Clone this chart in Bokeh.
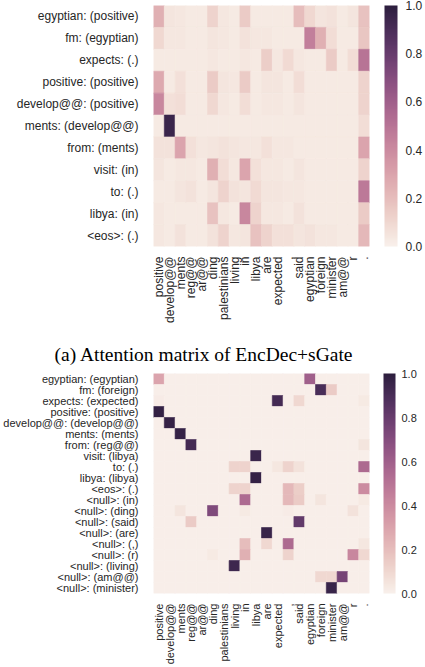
import numpy as np
from bokeh.plotting import figure
from bokeh.models import (ColumnDataSource, LinearColorMapper, ColorBar, FixedTicker,
                          PrintfTickFormatter, Title, FactorRange)
from bokeh.layouts import column
from bokeh.embed import file_html
from bokeh.resources import INLINE

# Source-side tokens (columns of both attention matrices)
source_tokens = ["positive", "develop@@", "ments", "reg@@", "ar@@", "ding", "palestinians",
                 "living", "in", "libya", "are", "expected", ",", "said", "egyptian",
                 "foreign", "minister", "am@@", "r", "."]

# (a) EncDec+sGate: output token: (most attended source token)
sgate_rows = ["egyptian: (positive)", "fm: (egyptian)", "expects: (.)", "positive: (positive)",
              "develop@@: (positive)", "ments: (develop@@)", "from: (ments)", "visit: (in)",
              "to: (.)", "libya: (in)", "<eos>: (.)"]
sgate_weights = [
    [.25, .05, .04, .03, .03, .12, .04, .03, .15, .03, .03, .03, .03, .20, .10, .05, .06, .03, .05, .18],
    [.10, .04, .04, .03, .03, .05, .04, .03, .06, .04, .04, .03, .03, .03, .45, .25, .08, .03, .03, .17],
    [.03, .03, .03, .03, .03, .04, .03, .03, .04, .03, .14, .04, .09, .04, .03, .03, .15, .03, .08, .50],
    [.28, .03, .07, .03, .03, .15, .05, .04, .15, .03, .05, .05, .03, .08, .03, .03, .03, .03, .03, .12],
    [.42, .07, .08, .03, .03, .10, .04, .03, .08, .03, .04, .04, .03, .05, .03, .03, .03, .03, .03, .12],
    [.03, .95, .03, .03, .03, .03, .03, .03, .03, .03, .03, .03, .03, .03, .03, .03, .03, .03, .03, .08],
    [.06, .06, .30, .07, .04, .05, .06, .05, .04, .04, .07, .04, .04, .03, .03, .03, .03, .03, .03, .30],
    [.05, .03, .04, .04, .03, .25, .08, .04, .30, .07, .04, .04, .03, .05, .03, .03, .03, .03, .03, .12],
    [.03, .03, .05, .06, .03, .05, .12, .06, .05, .09, .05, .05, .04, .04, .03, .03, .03, .03, .03, .48],
    [.04, .03, .03, .03, .03, .18, .04, .03, .42, .12, .04, .04, .03, .06, .03, .03, .03, .03, .03, .15],
    [.04, .03, .06, .03, .03, .06, .12, .04, .05, .18, .12, .07, .07, .05, .06, .04, .04, .03, .03, .22],
]

# Second model: output token (or <null>): (aligned source token)
full_rows = ["egyptian: (egyptian)", "fm: (foreign)", "expects: (expected)", "positive: (positive)",
             "develop@@: (develop@@)", "ments: (ments)", "from: (reg@@)", "visit: (libya)",
             "to: (.)", "libya: (libya)", "<eos>: (.)", "<null>: (in)", "<null>: (ding)",
             "<null>: (said)", "<null>: (are)", "<null>: (,)", "<null>: (r)", "<null>: (living)",
             "<null>: (am@@)", "<null>: (minister)"]
full_weights = [
    [.30, .01, .01, .01, .01, .01, .01, .01, .01, .01, .01, .01, .01, .01, .60, .01, .01, .01, .01, .01],
    [.01, .01, .01, .01, .01, .01, .01, .01, .01, .01, .01, .01, .01, .01, .01, .90, .15, .01, .01, .01],
    [.02, .01, .01, .01, .01, .01, .01, .01, .01, .01, .01, .92, .01, .10, .01, .01, .01, .01, .01, .03],
    [.98, .01, .01, .01, .01, .01, .01, .01, .01, .01, .01, .01, .01, .01, .01, .01, .01, .01, .01, .01],
    [.01, .97, .01, .01, .01, .01, .01, .01, .01, .01, .01, .01, .01, .01, .01, .01, .01, .01, .01, .01],
    [.01, .01, .97, .01, .01, .01, .01, .01, .01, .01, .01, .01, .01, .01, .01, .01, .01, .01, .01, .01],
    [.01, .01, .01, .92, .01, .01, .01, .01, .01, .01, .01, .01, .01, .01, .01, .01, .01, .01, .01, .05],
    [.01, .01, .01, .01, .01, .01, .01, .01, .01, .95, .01, .01, .01, .01, .01, .01, .01, .01, .01, .01],
    [.01, .01, .01, .01, .01, .01, .01, .12, .12, .01, .01, .04, .12, .06, .01, .01, .01, .01, .01, .55],
    [.01, .01, .01, .01, .01, .01, .01, .01, .01, .97, .01, .01, .01, .01, .01, .01, .01, .01, .01, .01],
    [.01, .01, .01, .01, .01, .01, .01, .12, .12, .01, .01, .01, .22, .14, .01, .01, .01, .01, .01, .40],
    [.01, .01, .01, .01, .01, .01, .01, .01, .55, .01, .01, .01, .22, .15, .01, .05, .01, .01, .01, .03],
    [.01, .01, .05, .01, .01, .72, .01, .01, .03, .01, .01, .01, .02, .01, .01, .01, .01, .01, .06, .01],
    [.01, .01, .01, .15, .01, .01, .01, .01, .01, .01, .01, .01, .01, .82, .01, .01, .01, .01, .01, .01],
    [.01, .01, .01, .01, .01, .01, .01, .01, .01, .01, .96, .01, .01, .01, .01, .01, .01, .01, .01, .01],
    [.01, .01, .01, .01, .01, .01, .01, .01, .20, .01, .10, .01, .55, .01, .01, .01, .01, .01, .01, .04],
    [.01, .01, .01, .01, .01, .03, .01, .01, .25, .01, .01, .01, .12, .01, .01, .01, .01, .01, .42, .10],
    [.01, .01, .01, .01, .01, .01, .01, .94, .01, .01, .01, .01, .01, .01, .01, .01, .01, .01, .01, .01],
    [.01, .01, .01, .01, .01, .01, .01, .01, .01, .01, .01, .01, .01, .01, .01, .10, .10, .75, .01, .01],
    [.01, .01, .01, .01, .01, .01, .01, .01, .01, .01, .01, .01, .01, .01, .01, .01, .96, .01, .01, .01],
]

colorbar_ticks = [0.0, 0.2, 0.4, 0.6, 0.8, 1.0]
caption_text = "(a) Attention matrix of EncDec+sGate"


def cubehelix_palette(n=256, start=0.0, rot=0.4, gamma=1.0, hue=0.8, light=0.95, dark=0.15):
    """Light-to-dark cubehelix colour ramp (pink to purple)."""
    out = []
    for x in np.linspace(light, dark, n):
        xg = x ** gamma
        a = hue * xg * (1 - xg) / 2
        phi = 2 * np.pi * (start / 3 + rot * x)
        c, s = np.cos(phi), np.sin(phi)
        r = xg + a * (-0.14861 * c + 1.78277 * s)
        g = xg + a * (-0.29227 * c - 0.90649 * s)
        b = xg + a * (1.97294 * c)
        rgb = [int(round(255 * min(1, max(0, v)))) for v in (r, g, b)]
        out.append("#%02x%02x%02x" % tuple(rgb))
    return out


mapper = LinearColorMapper(palette=cubehelix_palette(), low=0.0, high=1.0)
TEXT = "#262626"
FONT = "Liberation Sans"


def attention_heatmap(rows, weights, height, borders, label_px, cb_gap, cb_width, cb_standoff):
    left, top, right, bottom = borders
    xs, ys, ws = [], [], []
    for r, vals in zip(rows, weights):
        for c, v in zip(source_tokens, vals):
            xs.append(c)
            ys.append(r)
            ws.append(v)
    src = ColumnDataSource(dict(x=xs, y=ys, w=ws))

    p = figure(width=425, height=height, output_backend="svg", toolbar_location=None,
               x_range=FactorRange(*source_tokens), y_range=FactorRange(*rows[::-1]),
               min_border_left=left, min_border_top=top,
               min_border_right=right, min_border_bottom=bottom)
    fill = {"field": "w", "transform": mapper}
    p.rect(x="x", y="y", width=1, height=1, source=src,
           fill_color=fill, line_color=fill, line_width=0.6)

    p.grid.visible = False
    p.outline_line_color = None
    p.background_fill_color = "white"
    for ax in (p.xaxis, p.yaxis):
        ax.axis_line_color = None
        ax.major_tick_line_color = None
        ax.minor_tick_line_color = None
        ax.major_label_text_font = FONT
        ax.major_label_text_font_size = f"{label_px}px"
        ax.major_label_text_color = TEXT
    p.xaxis.major_label_orientation = np.pi / 2
    p.xaxis.major_label_standoff = 4
    p.yaxis.major_label_standoff = 9

    cb = ColorBar(color_mapper=mapper, ticker=FixedTicker(ticks=colorbar_ticks),
                  formatter=PrintfTickFormatter(format="%.1f"),
                  width=cb_width, height="auto", location=(cb_gap, 0),
                  margin=0, padding=0, bar_line_color=None,
                  major_tick_line_color=None, minor_tick_line_color=None,
                  label_standoff=cb_standoff, border_line_color=None,
                  background_fill_color=None,
                  major_label_text_font=FONT, major_label_text_font_size=f"{label_px}px",
                  major_label_text_color=TEXT)
    p.add_layout(cb, "right")
    return p


top_plot = attention_heatmap(sgate_rows, sgate_weights, 330, (130, 5, 56, 84), 12, 15, 13, 8)

bottom_plot = attention_heatmap(full_rows, full_weights, 337, (146, 43, 52, 66), 11, 14, 12, 6)
# Caption of sub-figure (a), set between the two heatmaps
bottom_plot.add_layout(Title(text=caption_text, align="left", offset=-99, standoff=17,
                             text_font="Liberation Serif", text_font_size="19.5px",
                             text_font_style="normal", text_color="black"), "above")

layout = column(top_plot, bottom_plot, spacing=0)
open("out.html", "w").write(file_html(layout, INLINE))
